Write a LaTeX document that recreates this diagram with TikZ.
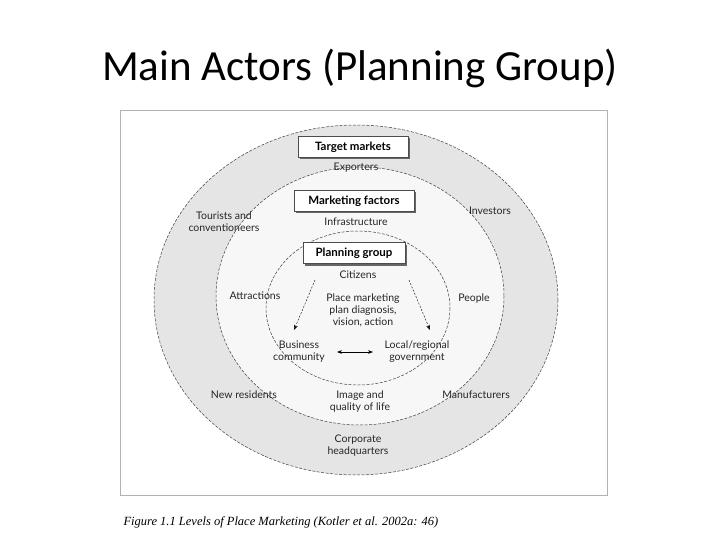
\documentclass[tikz,border=0pt]{standalone}
\usepackage{fontspec}
\setmainfont{Carlito}
\newfontfamily\figfont{Lato}
\newfontfamily\capfont{Liberation Serif}
\usetikzlibrary{shadows,arrows.meta}
\begin{document}
\begin{tikzpicture}[x=1pt,y=-1pt,
  lbl/.style={font=\figfont\fontsize{10.5}{12}\selectfont,align=center,text=black!85,inner sep=1pt},
  boxlbl/.style={draw=black!70,fill=white,font=\figfont\bfseries\fontsize{11.5}{13}\selectfont,minimum height=21,inner xsep=5pt,drop shadow={shadow xshift=2pt,shadow yshift=-2pt,fill=black!60,opacity=1}},
  ring/.style={draw=black!75,dashed,dash pattern=on 3pt off 1.5pt,line width=0.5pt}]
\useasboundingbox (0,0) rectangle (720,540);
\fill[white] (0,0) rectangle (720,540);
\node[font=\fontsize{43}{48}\selectfont] (title) at (360,68) {Main Actors (Planning Group)};
\draw[black!30,line width=0.8pt] (120,110) rectangle (607,495);
\draw[ring,fill=black!10] (356,300) ellipse [x radius=202,y radius=175];
\draw[ring,fill=black!3] (360,296) ellipse [x radius=144,y radius=129];
\draw[ring,fill=black!3] (358,308) ellipse [x radius=92,y radius=77];
\node[boxlbl,minimum width=110] (tm) at (353,147) {Target markets};
\node[boxlbl,minimum width=120] (mf) at (354,201) {Marketing factors};
\node[boxlbl,minimum width=102] (pg) at (354,253) {Planning group};
\node[lbl] (exp) at (356,168) {Exporters};
\node[lbl] (inf) at (356,222) {Infrastructure};
\node[lbl] (cit) at (358,275) {Citizens};
\node[lbl] (tour) at (224,222) {Tourists and\\conventioneers};
\node[lbl] (inv) at (490,211) {Investors};
\node[lbl] (attr) at (255,296) {Attractions};
\node[lbl] (peop) at (474,299) {People};
\node[lbl] (plan) at (363,310) {Place marketing\\plan diagnosis,\\vision, action};
\node[lbl] (bus) at (299,352) {Business\\community};
\node[lbl] (gov) at (417,352) {Local/regional\\government};
\node[lbl] (newr) at (244,395) {New residents};
\node[lbl] (img) at (360,402) {Image and\\quality of life};
\node[lbl] (man) at (476,395) {Manufacturers};
\node[lbl] (corp) at (358,446) {Corporate\\headquarters};
\coordinate (a1) at (315,280); \coordinate (b1) at (294,330);
\coordinate (a2) at (409,280); \coordinate (b2) at (430,330);
\draw[dashed,dash pattern=on 2pt off 1.5pt,-{Stealth[length=5pt]}] (a1) -- (b1);
\draw[dashed,dash pattern=on 2pt off 1.5pt,-{Stealth[length=5pt]}] (a2) -- (b2);
\coordinate (c1) at (337,352); \coordinate (c2) at (373,352);
\draw[line width=0.8pt,{Stealth[length=5pt]}-{Stealth[length=5pt]}] (c1) -- (c2);
\node[font=\capfont\itshape\fontsize{12.5}{14}\selectfont,anchor=west] (cap) at (120,522) {Figure 1.1 Levels of Place Marketing (Kotler et al. 2002a: 46)};
\end{tikzpicture}
\end{document}
